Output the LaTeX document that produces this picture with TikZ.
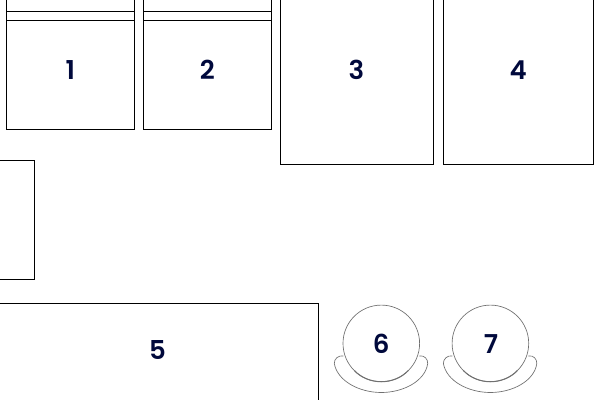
\documentclass[tikz,border=0pt]{standalone}
\usepackage{fontspec}
\setmainfont{Poppins SemiBold}
\definecolor{navy}{HTML}{00093C}
\definecolor{chairline}{HTML}{707070}
\tikzset{
  px/.style={x=0.75pt,y=-0.75pt},
  box/.style={draw=black,line width=0.75pt,fill=white},
  seat/.style={draw=chairline,line width=0.5pt,fill=white},
  num/.style={text=navy,font=\fontsize{19.5pt}{20pt}\selectfont,inner sep=0pt,anchor=center},
}
\begin{document}
\begin{tikzpicture}[px]
\useasboundingbox (0,0) rectangle (600,400);
\clip (0,0) rectangle (600,400);
\fill[white] (0,0) rectangle (600,400);
% tables 1 and 2
\draw[box] (6.5,-5) rectangle (134.5,129.5);
\draw[box] (143.5,-5) rectangle (271.5,129.5);
\draw[line width=0.75pt] (6.5,11.5) -- (134.5,11.5) (6.5,20.5) -- (134.5,20.5);
\draw[line width=0.75pt] (143.5,11.5) -- (271.5,11.5) (143.5,20.5) -- (271.5,20.5);
% tables 3 and 4
\draw[box] (280.5,-5) rectangle (433.5,164.5);
\draw[box] (443.5,-5) rectangle (593.5,164.5);
% left unlabelled box
\draw[box] (-5,160.5) rectangle (34.5,279.5);
% table 5
\draw[box] (-5,303.5) rectangle (318.5,405);
% chairs
\foreach \cx/\nm in {381.3/6,490.4/7}{
  \begin{scope}[shift={(\cx,0)}]
    \draw[seat] (-38,356) .. controls (-43,355) and (-47.2,359) .. (-47,363.5)
      .. controls (-44,381) and (-22,392.5) .. (0,392.5)
      .. controls (22,392.5) and (44,381) .. (46.4,363.5)
      .. controls (46.6,359) and (43,355) .. (38,356);
    \draw[seat] (0,343.4) circle[radius=38.3];
    \draw[draw=chairline,line width=0.75pt] (-27,370.5) .. controls (-20,378) and (-10,381.7) .. (0,381.7)
      .. controls (10,381.7) and (20,378) .. (27,370.5);
  \end{scope}
}
\node[num] (n1) at (70.3,70) {1};
\node[num] (n2) at (207.3,70) {2};
\node[num] (n3) at (356.5,70) {3};
\node[num] (n4) at (518.3,70) {4};
\node[num] (n5) at (157.5,350) {5};
\node[num] (n6) at (381.3,344) {6};
\node[num] (n7) at (491,344) {7};
\end{tikzpicture}
\end{document}
